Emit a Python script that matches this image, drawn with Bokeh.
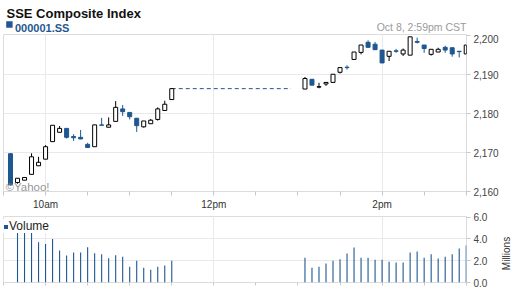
import math
from bokeh.plotting import figure
from bokeh.models import (ColumnDataSource, FixedTicker, NumeralTickFormatter, Label,
                          Legend, LegendItem, Range1d)
from bokeh.core.properties import value
from bokeh.layouts import column, row
from bokeh.embed import file_html
from bokeh.resources import INLINE

# ---------------- data ----------------
chart_title = "SSE Composite Index"
ticker_symbol = "000001.SS"
timestamp_text = "Oct 8, 2:59pm CST"
credit_text = "\u00a9Yahoo!"
volume_label = "Volume"
volume_unit = "Millions"

times = ["09:35", "09:40", "09:45", "09:50", "09:55", "10:00", "10:05", "10:10",
         "10:15", "10:20", "10:25", "10:30", "10:35", "10:40", "10:45", "10:50",
         "10:55", "11:00", "11:05", "11:10", "11:15", "11:20", "11:25", "11:30",
         "13:05", "13:10", "13:15", "13:20", "13:25", "13:30", "13:35", "13:40",
         "13:45", "13:50", "13:55", "14:00", "14:05", "14:10", "14:15", "14:20",
         "14:25", "14:30", "14:35", "14:40", "14:45", "14:50", "14:55", "15:00"]

opens = [2169.7, 2162.3, 2162.9, 2164.4, 2166.6, 2168.3, 2172.8, 2175.2,
         2176.2, 2174.1, 2173.9, 2172.1, 2171.5, 2177.1, 2176.5, 2178.0,
         2181.2, 2180.3, 2178.8, 2176.6, 2177.4, 2178.5, 2180.8, 2183.6,
         2186.3, 2188.8, 2186.8, 2187.6, 2188.0, 2190.6, 2191.9, 2193.9,
         2195.7, 2198.3, 2197.8, 2196.3, 2194.7, 2196.1, 2195.3, 2195.0,
         2198.5, 2197.6, 2195.2, 2195.8, 2197.0, 2196.9, 2196.0, 2195.3]
highs = [2169.8, 2163.4, 2163.6, 2169.8, 2168.9, 2171.9, 2177.0, 2176.8,
         2176.2, 2174.7, 2175.8, 2172.5, 2177.1, 2178.9, 2179.0, 2183.2,
         2182.2, 2180.3, 2178.8, 2178.1, 2178.6, 2181.6, 2183.3, 2186.5,
         2189.4, 2188.8, 2187.9, 2188.0, 2190.1, 2191.8, 2192.4, 2195.8,
         2197.6, 2198.8, 2198.4, 2196.3, 2196.0, 2196.6, 2196.7, 2199.7,
         2199.5, 2197.6, 2196.5, 2196.9, 2197.4, 2196.9, 2196.0, 2197.6]
lows = [2161.5, 2162.0, 2162.9, 2164.4, 2166.6, 2168.3, 2172.8, 2175.2,
        2173.6, 2173.0, 2173.4, 2171.3, 2171.5, 2177.0, 2176.5, 2178.0,
        2179.4, 2178.5, 2175.3, 2176.4, 2177.4, 2178.2, 2180.8, 2183.6,
        2186.3, 2187.3, 2186.5, 2187.1, 2188.0, 2190.3, 2191.3, 2193.9,
        2195.2, 2197.0, 2196.4, 2193.0, 2193.5, 2195.6, 2194.8, 2195.0,
        2198.0, 2195.6, 2194.9, 2195.8, 2195.6, 2194.6, 2194.4, 2195.3]
closes = [2161.7, 2163.4, 2163.6, 2168.9, 2167.5, 2171.5, 2177.0, 2176.2,
          2173.9, 2173.8, 2173.5, 2171.3, 2177.1, 2177.0, 2177.1, 2181.6,
          2180.5, 2179.2, 2176.9, 2178.1, 2178.3, 2181.2, 2182.4, 2186.4,
          2189.0, 2187.3, 2186.9, 2188.0, 2190.1, 2191.8, 2191.8, 2195.8,
          2197.6, 2197.0, 2196.4, 2193.0, 2196.0, 2196.0, 2196.3, 2199.7,
          2198.3, 2196.7, 2196.5, 2196.5, 2196.3, 2195.3, 2195.9, 2197.6]
# volume in millions (None = no bar shown)
volumes = [None, 4.8, 5.0, 4.6, 3.70, 3.52, 3.98, 2.93,
           2.47, 2.74, 2.74, 3.24, 2.68, 2.59, 2.22, 2.50,
           2.37, 1.44, 2.00, 1.35, 1.16, 1.44, 1.56, 2.00,
           2.28, 1.35, 1.44, 1.75, 2.00, 2.12, 2.65, 3.21,
           2.28, 2.28, 2.09, 2.09, 1.91, 1.84, 1.84, 2.74,
           2.84, 2.28, 2.59, 2.19, 2.37, 2.59, 3.12, 3.40]

session = ["09:30", "15:00"]
lunch_break = ["11:30", "12:55"]
tick_times = ["10:00", "12:00", "14:00"]
tick_labels = ["10am", "12pm", "2pm"]
price_ticks = [2160, 2170, 2180, 2190, 2200]
price_grid = [2170, 2180, 2190]
volume_ticks = [0, 2, 4, 6]
volume_grid = [2, 4]

# ---------------- styling ----------------
FONT = "Liberation Sans"
BLUE = "#1f5790"
FRAME = "#dcdcdc"
GRID = "#e9e9e9"
TICK = "#c8c8c8"
LABEL = "#444444"

W = 512
HEAD = 34         # header strip height
FW = 463          # frame width
PH = 157          # price frame height
VH = 66           # volume frame height
LEFT, RIGHT = 3, 46
UNIT_W = 16       # strip holding the rotated unit label
PBOT = 20
VTOP, VBOT = 4, 7


def to_min(s):
    h, m = s.split(":")
    return int(h) * 60 + int(m)


t = [to_min(s) for s in times]
X0, X1 = to_min(session[0]), to_min(session[1]) + 0.2
Y0, Y1 = 2160.0, 2200.3
V0, V1 = 0.0, 6.05
SX = FW / (X1 - X0)
BODY_W = 4.0 / SX
VOL_W = 1.1 / SX

is_up = [c >= o for o, c in zip(opens, closes)]
src = ColumnDataSource(dict(
    x=t, high=highs, low=lows,
    top=[max(o, c) for o, c in zip(opens, closes)],
    bottom=[min(o, c) for o, c in zip(opens, closes)],
    fill=["#ffffff" if u else BLUE for u in is_up],
    line=["#000000" if u else BLUE for u in is_up],
))
vsrc = ColumnDataSource(dict(
    x=t, v=[float("nan") if v is None else v for v in volumes]))

xr = Range1d(X0, X1)


def cx(px):
    return X0 + (px - LEFT) / SX


def cy_price(py):
    return Y1 - py * (Y1 - Y0) / PH


half_hours = list(range(int(X0), int(X1) + 1, 30))
label_map = {to_min(s): lab for s, lab in zip(tick_times, tick_labels)}
overrides = {h: label_map.get(h, "") for h in half_hours}


def blank_strip(w, h):
    f = figure(frame_width=w, frame_height=h, min_border=0, min_border_left=0,
               min_border_right=0, min_border_top=0, min_border_bottom=0,
               x_range=Range1d(0, w), y_range=Range1d(h, 0),
               toolbar_location=None, tools="", output_backend="svg")
    f.axis.visible = False
    f.grid.visible = False
    f.outline_line_color = None
    return f


# ---------------- header strip (pixel coordinates) ----------------
ph = blank_strip(W, HEAD)
ph.text(x=[3], y=[12.7], text=[chart_title], text_font=value(FONT),
        text_font_size=value("13px"), text_font_style="bold", text_color="#111111",
        text_baseline="alphabetic", text_align="left")
ph.rect(x=[5.9], y=[24.0], width=6.4, height=6.4, fill_color=BLUE, line_color=None)
ph.text(x=[11.5], y=[27.6], text=[ticker_symbol], text_font=value(FONT),
        text_font_size=value("11px"), text_font_style="bold", text_color=BLUE,
        text_baseline="alphabetic", text_align="left")
ph.text(x=[463], y=[26.8], text=[timestamp_text], text_font=value(FONT),
        text_font_size=value("10.5px"), text_color="#9a9a9a",
        text_baseline="alphabetic", text_align="right")


def style_common(p):
    p.outline_line_color = FRAME
    p.outline_line_width = 1
    p.background_fill_color = "#ffffff"
    p.border_fill_color = "#ffffff"
    p.xgrid.ticker = FixedTicker(ticks=[to_min(s) for s in tick_times])
    p.grid.grid_line_color = GRID
    p.grid.grid_line_width = 1
    for ax in (p.xaxis[0], p.yaxis[0]):
        ax.axis_line_color = None
        ax.major_tick_line_color = TICK
        ax.major_tick_in = 0
        ax.major_tick_out = 4
        ax.minor_tick_line_color = None
        ax.major_label_text_font = FONT
        ax.major_label_text_font_size = "10px"
        ax.major_label_text_color = LABEL
    p.xaxis.ticker = FixedTicker(ticks=half_hours)
    p.yaxis.major_label_standoff = 3


# ---------------- price panel ----------------
p1 = figure(frame_width=FW, frame_height=PH, min_border_left=LEFT, min_border_right=RIGHT,
            min_border_top=0, min_border_bottom=PBOT, x_range=xr,
            y_range=Range1d(Y0, Y1), y_axis_location="right",
            toolbar_location=None, tools="", output_backend="svg")
style_common(p1)
p1.ygrid.ticker = FixedTicker(ticks=price_grid)
p1.yaxis.ticker = FixedTicker(ticks=price_ticks)
p1.yaxis.formatter = NumeralTickFormatter(format="0,0")
p1.xaxis.major_label_overrides = overrides
p1.xaxis.major_label_standoff = 3
p1.xaxis.major_label_text_color = "#333333"

# lunch-break connector at the last morning close
i_last = times.index(lunch_break[0])
p1.line(x=[to_min(lunch_break[0]), to_min(lunch_break[1])],
        y=[closes[i_last], closes[i_last]],
        line_color=BLUE, line_width=1, line_dash="4 3")

p1.segment(x0="x", y0="high", x1="x", y1="low", line_color="line", line_width=1, source=src)
p1.vbar(x="x", width=BODY_W, top="top", bottom="bottom", fill_color="fill",
        line_color="line", line_width=1, source=src)

p1.add_layout(Label(x=cx(5), y=cy_price(186.5 - HEAD), text=credit_text, text_font=FONT,
                    text_font_size="11.5px", text_color="#808080", text_alpha=0.85,
                    text_baseline="alphabetic", text_align="left"))

# ---------------- volume panel ----------------
p2 = figure(frame_width=FW, frame_height=VH, min_border_left=LEFT,
            min_border_right=RIGHT - UNIT_W,
            min_border_top=VTOP, min_border_bottom=VBOT, x_range=xr,
            y_range=Range1d(V0, V1), y_axis_location="right",
            toolbar_location=None, tools="", output_backend="svg")
style_common(p2)
p2.ygrid.ticker = FixedTicker(ticks=volume_grid)
p2.yaxis.ticker = FixedTicker(ticks=volume_ticks)
p2.yaxis.formatter = NumeralTickFormatter(format="0.0")
p2.xaxis.major_label_overrides = {h: "" for h in half_hours}
p2.xaxis.major_label_text_font_size = "0px"
p2.xaxis.major_label_standoff = 0
p2.xaxis.major_tick_out = 3

vr = p2.vbar(x="x", width=VOL_W, top="v", bottom=0, fill_color=BLUE, line_color=None, source=vsrc)

legend = Legend(items=[LegendItem(label=volume_label, renderers=[vr])],
                location=(0, 49), margin=0, padding=3, spacing=0,
                glyph_width=5, glyph_height=5, label_standoff=1, label_height=12,
                label_text_font=FONT, label_text_font_size="12px",
                label_text_color="#222222", border_line_color=None,
                background_fill_color="#ffffff", background_fill_alpha=1.0)
p2.add_layout(legend)

# unit label strip to the right of the volume axis
VOL_FIG_H = VTOP + VH + VBOT
pu = blank_strip(UNIT_W, VOL_FIG_H)
pu.text(x=[10], y=[VTOP + VH / 2], text=[volume_unit], text_font=value(FONT),
        text_font_size=value("10px"), text_color="#333333", angle=math.pi / 2,
        text_align="center", text_baseline="middle")

layout = column(ph, p1, row(p2, pu, spacing=0), spacing=0)
open("out.html", "w").write(file_html(layout, INLINE))
